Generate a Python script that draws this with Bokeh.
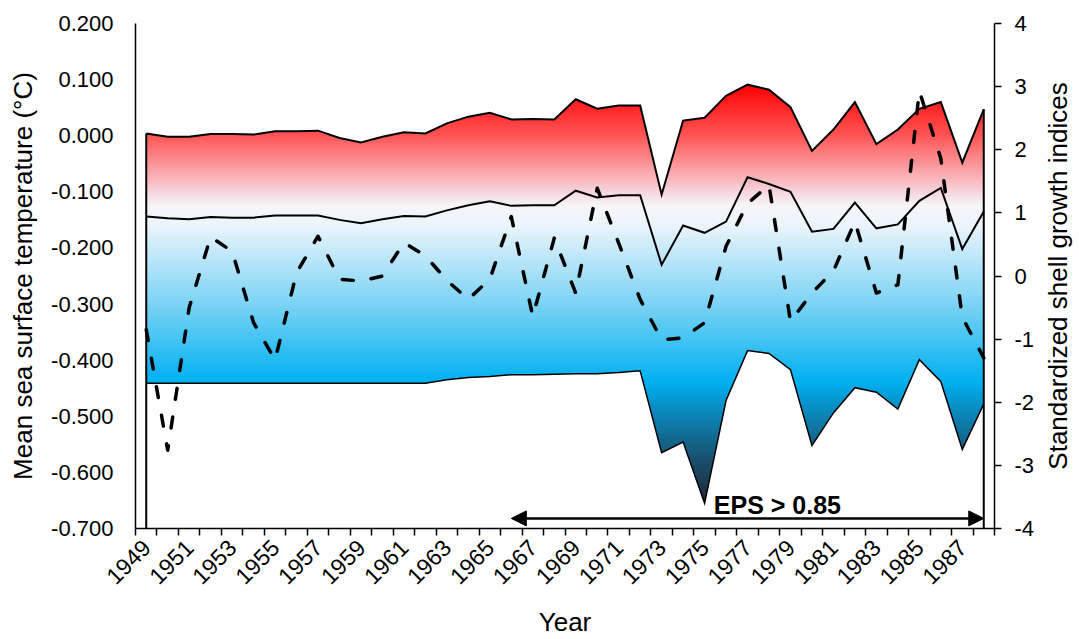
import math
import numpy as np
from bokeh.plotting import figure
from bokeh.layouts import row
from bokeh.models import (Range1d, LinearAxis, FixedTicker, NumeralTickFormatter,
                          Arrow, NormalHead, Label, ColumnDataSource)
from bokeh.embed import file_html
from bokeh.resources import INLINE

# ---------------- data ----------------
years = list(range(1949, 1989))
sst_upper = [0.004, -0.002, -0.002, 0.003, 0.003, 0.002, 0.008, 0.008, 0.009, -0.004,
             -0.012, -0.002, 0.006, 0.004, 0.022, 0.034, 0.041, 0.029, 0.030, 0.029,
             0.065, 0.048, 0.054, 0.054, -0.105, 0.027, 0.032, 0.071, 0.091, 0.082,
             0.051, -0.027, 0.011, 0.060, -0.015, 0.011, 0.048, 0.060, -0.048, 0.047]
sst_mean = [-0.144, -0.147, -0.149, -0.145, -0.146, -0.146, -0.142, -0.142, -0.142, -0.150,
            -0.156, -0.149, -0.143, -0.144, -0.133, -0.124, -0.117, -0.125, -0.124, -0.124,
            -0.098, -0.110, -0.106, -0.106, -0.230, -0.160, -0.173, -0.153, -0.074, -0.086,
            -0.100, -0.171, -0.166, -0.119, -0.165, -0.158, -0.116, -0.093, -0.202, -0.135]
sst_lower = [-0.441, -0.441, -0.441, -0.441, -0.441, -0.441, -0.441, -0.441, -0.441, -0.441,
             -0.441, -0.441, -0.441, -0.441, -0.435, -0.431, -0.429, -0.426, -0.426, -0.425,
             -0.424, -0.424, -0.422, -0.419, -0.565, -0.546, -0.655, -0.472, -0.383, -0.388,
             -0.417, -0.552, -0.494, -0.449, -0.457, -0.487, -0.399, -0.438, -0.559, -0.478]
shell_index = [-0.85, -2.76, -0.50, 0.62, 0.39, -0.74, -1.33, 0.05, 0.63, -0.05,
               -0.08, 0.00, 0.53, 0.32, -0.07, -0.37, -0.05, 0.94, -0.64, 0.60,
               -0.27, 1.39, 0.52, -0.37, -1.01, -0.98, -0.74, 0.47, 1.15, 1.44,
               -0.72, -0.27, 0.08, 0.86, -0.27, -0.14, 2.93, 1.86, -0.65, -1.30]
left_ticks = [0.2, 0.1, 0.0, -0.1, -0.2, -0.3, -0.4, -0.5, -0.6, -0.7]
right_ticks = [4, 3, 2, 1, 0, -1, -2, -3, -4]
right_tick_labels = ["4", "3", "2", "1", "0", "-1", "-2", "-3", "-4"]
year_labels = [str(y) for y in years[::2]]
eps_start_year, eps_end_year = 1966, 1988
eps_text = "EPS > 0.85"
right_title = "Standardized shell growth indices"

# ---------------- figure ----------------
FONT = "Liberation Sans"
x = [y - years[0] for y in years]
ymin_l, ymax_l = left_ticks[-1], left_ticks[0]

p = figure(width=1038, height=639, output_backend="svg", toolbar_location=None,
           x_range=Range1d(x[0] - 0.5, x[-1] + 0.5), y_range=Range1d(ymin_l, ymax_l),
           min_border_left=135, min_border_right=44, min_border_top=23, min_border_bottom=109)
p.outline_line_color = None
p.grid.visible = False
p.background_fill_color = "white"
p.border_fill_color = "white"

# gradient image between upper and lower curves
stops = [(0.091, (255, 0, 0)), (0.0, (255, 85, 85)), (-0.10, (248, 212, 220)),
         (-0.125, (246, 246, 250)), (-0.16, (236, 245, 252)), (-0.30, (125, 212, 245)),
         (-0.44, (0, 176, 240)), (-0.50, (12, 132, 182)), (-0.58, (26, 78, 108)),
         (-0.655, (32, 40, 56))]
g_top, g_bot = max(sst_upper), min(sst_lower)
N = 400
vals = g_bot + (np.arange(N) + 0.5) / N * (g_top - g_bot)
sv = np.array([s[0] for s in stops])[::-1]
sc = np.array([s[1] for s in stops], dtype=float)[::-1]
rgb = np.stack([np.interp(vals, sv, sc[:, k]) for k in range(3)], axis=1).astype(np.uint32)
img = np.empty((N, 2), dtype=np.uint32)
view = img.view(dtype=np.uint8).reshape((N, 2, 4))
for c in range(2):
    view[:, c, 0] = rgb[:, 0]
    view[:, c, 1] = rgb[:, 1]
    view[:, c, 2] = rgb[:, 2]
    view[:, c, 3] = 255
p.image_rgba(image=[img], x=x[0], y=g_bot, dw=x[-1] - x[0], dh=g_top - g_bot)

src = ColumnDataSource(dict(x=x, upper=sst_upper, mean=sst_mean, lower=sst_lower,
                            shell=shell_index, top=[ymax_l] * len(x), bot=[ymin_l] * len(x)))
# white masks outside the band
p.varea(x="x", y1="upper", y2="top", source=src, fill_color="white")
p.varea(x="x", y1="bot", y2="lower", source=src, fill_color="white")
p.segment(x0=[x[0], x[-1]], y0=[ymax_l, ymax_l], x1=[x[0], x[-1]],
          y1=[sst_upper[0], sst_upper[-1]], line_color="white", line_width=3)

p.line("x", "lower", source=src, line_color="black", line_width=1.5, line_join="miter")
p.line("x", "mean", source=src, line_color="black", line_width=2, line_join="miter")
p.line("x", "upper", source=src, line_color="black", line_width=2, line_join="miter")
p.segment(x0=[x[0], x[-1]], y0=[ymin_l, ymin_l], x1=[x[0], x[-1]],
          y1=[sst_upper[0], sst_upper[-1]], line_color="black", line_width=2)

p.extra_y_ranges = {"idx": Range1d(right_ticks[-1], right_ticks[0])}
p.line("x", "shell", source=src, y_range_name="idx", line_color="black", line_width=3.5,
       line_dash="11 18", line_cap="round", line_join="round")

# EPS arrow and label
arrow_y = -0.682
p.add_layout(Arrow(start=NormalHead(size=15, fill_color="black", line_color="black"),
                   end=NormalHead(size=15, fill_color="black", line_color="black"),
                   x_start=eps_start_year - years[0], y_start=arrow_y,
                   x_end=eps_end_year - years[0], y_end=arrow_y,
                   line_color="black", line_width=2.5))
p.add_layout(Label(x=1975 - years[0] + 0.43, y=-0.659, text=eps_text, text_font=FONT,
                   text_font_size="25px", text_font_style="bold", text_color="black",
                   text_baseline="alphabetic", text_align="left"))

# ---------------- axes ----------------
ya = p.yaxis[0]
ya.ticker = FixedTicker(ticks=left_ticks)
ya.formatter = NumeralTickFormatter(format="0.000")
ya.major_tick_out = 0
ya.major_tick_in = 0
ya.minor_tick_out = 0
ya.minor_tick_in = 0
ya.major_label_standoff = 22
ya.axis_label = "Mean sea surface temperature (°C)"
ya.axis_label_standoff = 10

ra = LinearAxis(y_range_name="idx", ticker=FixedTicker(ticks=right_ticks))
ra.major_label_overrides = {t: l for t, l in zip(right_ticks, right_tick_labels)}
ra.major_tick_out = 7
ra.major_tick_in = 0
ra.minor_tick_out = 0
ra.minor_tick_in = 0
ra.major_label_standoff = 13
p.add_layout(ra, "right")

xa = p.xaxis[0]
label_pos = x[::2]
xa.ticker = FixedTicker(ticks=label_pos, minor_ticks=[v - 0.5 for v in x] + [x[-1] + 0.5])
xa.major_label_overrides = {t: l for t, l in zip(label_pos, year_labels)}
xa.major_tick_out = 0
xa.major_tick_in = 0
xa.minor_tick_out = 7
xa.minor_tick_in = 0
xa.major_label_orientation = math.pi / 4
xa.major_label_standoff = 8
xa.axis_label = "Year"
xa.axis_label_standoff = 12

for ax in (ya, ra, xa):
    ax.axis_line_color = "black"
    ax.axis_line_width = 1.5
    ax.major_tick_line_color = "black"
    ax.major_tick_line_width = 1.5
    ax.minor_tick_line_color = "black"
    ax.minor_tick_line_width = 1.5
    ax.major_label_text_font = FONT
    ax.major_label_text_font_size = "22px"
    ax.major_label_text_color = "black"
    ax.axis_label_text_font = FONT
    ax.axis_label_text_font_size = "26px"
    ax.axis_label_text_font_style = "normal"
    ax.axis_label_text_color = "black"
xa.major_label_text_font_size = "23px"

# narrow companion figure whose left-side title is the right-hand axis title (bottom-to-top)
p2 = figure(width=41, height=639, output_backend="svg", toolbar_location=None,
            title=right_title, title_location="left",
            x_range=Range1d(0, 1), y_range=Range1d(right_ticks[-1], right_ticks[0]),
            min_border_left=34, min_border_right=0, min_border_top=23, min_border_bottom=109)
p2.outline_line_color = None
p2.grid.visible = False
p2.axis.visible = False
p2.border_fill_color = "white"
p2.background_fill_color = "white"
p2.title.align = "center"
p2.title.standoff = 0
p2.title.offset = 0
p2.title.text_font = FONT
p2.title.text_font_size = "26px"
p2.title.text_font_style = "normal"
p2.title.text_color = "black"

layout = row(p, p2)
open("out.html", "w").write(file_html(layout, INLINE))
